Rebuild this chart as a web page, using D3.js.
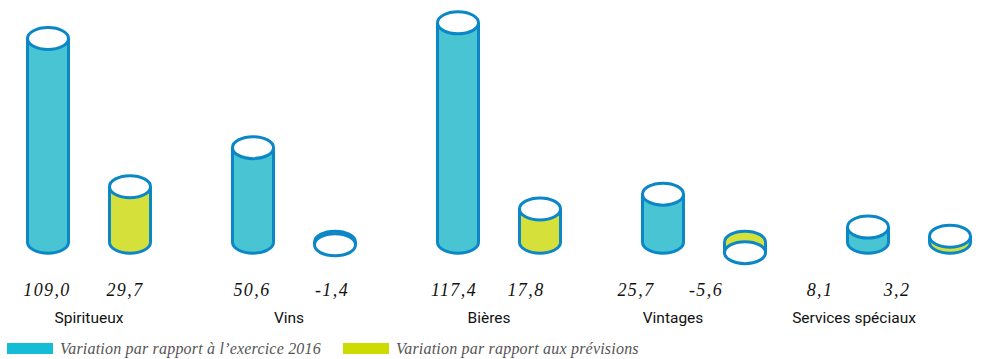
<!DOCTYPE html>
<html>
<head>
<meta charset="utf-8">
<script src="https://cdn.jsdelivr.net/npm/d3@7"></script>
<style>
  html, body { margin: 0; padding: 0; background: #fff; }
  svg { display: block; }
</style>
</head>
<body>
<svg id="chart" width="982" height="359"></svg>
<script>
// Data
const categories = ["Spiritueux", "Vins", "Bières", "Vintages", "Services spéciaux"];
const seriesNames = ["Variation par rapport à l’exercice 2016", "Variation par rapport aux prévisions"];
const vsExercice2016 = [109.0, 50.6, 117.4, 25.7, 8.1];
const vsPrevisions = [29.7, -1.4, 17.8, -5.6, 3.2];
const valueLabels2016 = ["109,0", "50,6", "117,4", "25,7", "8,1"];
const valueLabelsPrev = ["29,7", "-1,4", "17,8", "-5,6", "3,2"];

// Layout
const W = 982, H = 359;
const fills = ["#48c4d2", "#d6e03b"];
const legendFills = ["#14bcd6", "#cddc00"];
const strokeColor = "#0b87c8";
const rx = 20.5, ry = 11, sw = 3;
const pairOffset = 41;
// hand-set nudges for the text rows
const valueNudge = [[-1, -5], [-1, -3], [-4, -14], [-27, -39], [-48, -53]];
const catNudge = [0, -5, -10, -31, -55];

const svg = d3.select("#chart");

const x = d3.scaleBand().domain(categories).range([-13.5, 1011.5]).paddingInner(0);
const y = d3.scaleLinear().domain([0, 117.4]).range([242.2, 242.2 - 117.4 * 1.869]);

const rows = categories.map((c, i) => ({
  cat: c, i,
  bars: [
    { s: 0, v: vsExercice2016[i], label: valueLabels2016[i] },
    { s: 1, v: vsPrevisions[i], label: valueLabelsPrev[i] }
  ]
}));

const g = svg.append("g");

rows.forEach(r => {
  const cx0 = x(r.cat) + x.bandwidth() / 2;
  r.bars.forEach(b => {
    const cx = cx0 + (b.s === 0 ? -pairOffset : pairOffset);
    const y0 = y(0), yv = y(b.v);
    const cyl = g.append("g").attr("class", "cylinder");
    // base ellipse at zero
    cyl.append("ellipse")
      .attr("cx", cx).attr("cy", y0).attr("rx", rx).attr("ry", ry)
      .attr("fill", fills[b.s]).attr("stroke", strokeColor).attr("stroke-width", sw);
    // side body
    const top = Math.min(y0, yv), bot = Math.max(y0, yv);
    cyl.append("rect")
      .attr("x", cx - rx).attr("y", top).attr("width", rx * 2).attr("height", bot - top)
      .attr("fill", fills[b.s]);
    cyl.append("line")
      .attr("x1", cx - rx).attr("x2", cx - rx).attr("y1", top).attr("y2", bot)
      .attr("stroke", strokeColor).attr("stroke-width", sw);
    cyl.append("line")
      .attr("x1", cx + rx).attr("x2", cx + rx).attr("y1", top).attr("y2", bot)
      .attr("stroke", strokeColor).attr("stroke-width", sw);
    // cap at the value
    cyl.append("ellipse")
      .attr("cx", cx).attr("cy", yv).attr("rx", rx).attr("ry", ry)
      .attr("fill", "#fff").attr("stroke", strokeColor).attr("stroke-width", sw);

    // value text
    g.append("text")
      .attr("x", cx + valueNudge[r.i][b.s]).attr("y", 296)
      .attr("text-anchor", "middle")
      .attr("font-family", "'Liberation Serif', serif")
      .attr("font-style", "italic")
      .attr("font-size", 18)
      .attr("letter-spacing", 1.4)
      .attr("fill", "#111")
      .text(b.label);
  });

  g.append("text")
    .attr("x", cx0 + catNudge[r.i]).attr("y", 323)
    .attr("text-anchor", "middle")
    .attr("font-family", "Roboto, sans-serif")
    .attr("font-size", 15.5)
    .attr("fill", "#111")
    .text(r.cat);
});

// Legend
const legendX = [7, 343];
const legend = svg.append("g");
seriesNames.forEach((name, i) => {
  legend.append("rect")
    .attr("x", legendX[i]).attr("y", 343).attr("width", 46).attr("height", 11)
    .attr("fill", legendFills[i]);
  legend.append("text")
    .attr("x", legendX[i] + 53).attr("y", 354)
    .attr("font-family", "'Liberation Serif', serif")
    .attr("font-style", "italic")
    .attr("font-size", 16)
    .attr("letter-spacing", 0.2)
    .attr("fill", "#555")
    .text(name);
});
</script>
</body>
</html>
